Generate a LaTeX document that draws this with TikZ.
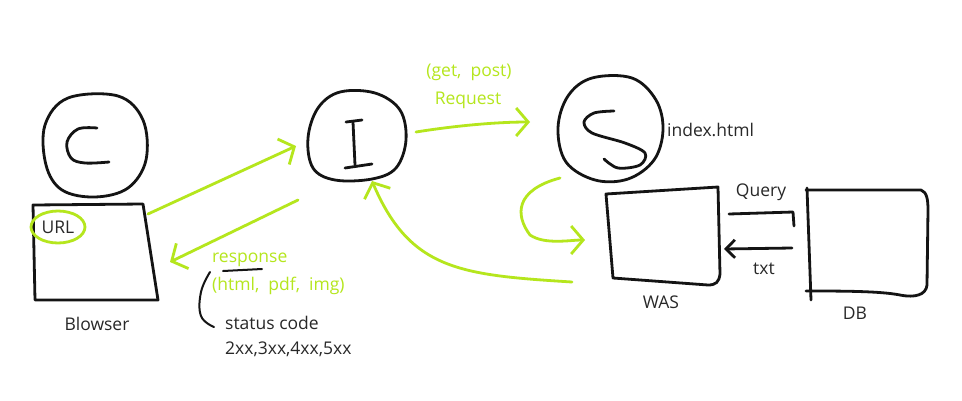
\documentclass[tikz,border=0pt]{standalone}
\usepackage{fontspec}
\setmainfont{Open Sans}
\usetikzlibrary{arrows.meta}
\definecolor{lime}{RGB}{181,230,29}
\definecolor{ink}{RGB}{20,20,20}
\definecolor{txtc}{RGB}{40,40,40}
\tikzset{
  pen/.style={draw=ink,line width=2.8pt,line cap=round,line join=round},
  gpen/.style={draw=lime,line width=2.8pt,line cap=round,line join=round},
  garrow/.style={gpen,-{Straight Barb[length=12pt,width=28pt,line width=2.8pt]}},
  barrow/.style={pen,-{Straight Barb[length=9pt,width=18pt,line width=2.8pt]}},
  lbl/.style={text=txtc,font=\fontsize{17.5}{20}\selectfont,inner sep=0pt},
  glbl/.style={text=lime,font=\fontsize{17.5}{20}\selectfont,inner sep=0pt},
}
\begin{document}
\begin{tikzpicture}[x=1pt,y=-1pt]
\useasboundingbox (0,0) rectangle (962,400);
\fill[white] (0,0) rectangle (962,400);

% ---- client C
\draw[pen] plot[smooth cycle,tension=0.6] coordinates {(68,98) (118,96) (143,120) (146,160) (128,188) (95,197) (62,190) (46,165) (45,125)};
\draw[pen] plot[smooth,tension=0.6] coordinates {(97,128) (78,129) (67,142) (71,158) (85,163) (109,162)};
% browser box
\draw[pen] (33,205) -- (143,204) -- (158,300) -- (35,300) -- cycle;
\node[lbl] (url) at (58,227) {URL};
\draw[gpen] (url) ellipse [x radius=27pt, y radius=16pt];
\node[lbl] (blowser) at (97,324) {Blowser};

% ---- Internet I
\draw[pen] plot[smooth cycle,tension=0.6] coordinates {(340,92) (375,93) (400,110) (406,140) (396,168) (372,179) (335,180) (313,168) (308,138) (318,108)};
\draw[pen] (346,122) -- (362,120);
\draw[pen] (353,122) -- (355,165);
\draw[pen] (345,168) -- (372,164);

% ---- Server S
\draw[pen] plot[smooth cycle,tension=0.6] coordinates {(592,78) (632,78) (656,100) (663,130) (654,160) (628,179) (595,180) (566,162) (558,128) (568,96)};
\draw[pen] plot[smooth,tension=0.55] coordinates {(614,111) (594,113) (584,122) (592,133) (625,143) (645,153) (640,165) (618,168) (604,159)};
\node[lbl,anchor=west] (index) at (667,130) {index.html};

% ---- WAS
\draw[pen] (606,194) -- (718,187) -- (720,274) .. controls (719,282) and (716,285) .. (708,285) -- (613,278) -- cycle;
\node[lbl] (was) at (661,302) {WAS};

% ---- DB
\draw[pen] (807,188) -- (811,300);
\draw[pen] (806,190) -- (921,190) .. controls (927,192) and (928,200) .. (928,210) -- (927,285) .. controls (926,295) and (915,298) .. (900,295) .. controls (880,291) and (840,291) .. (806,291);
\node[lbl] (db) at (855,313) {DB};

% ---- coordinates for connectors
\coordinate (cOut) at (148,214);
\coordinate (iIn) at (296,146);
\coordinate (iOut) at (298,200);
\coordinate (cIn) at (170,262);
\coordinate (iR) at (416,132);
\coordinate (sIn) at (530,122);
\coordinate (sOut) at (560,178);
\coordinate (wasIn) at (585,240);
\coordinate (wasOut) at (572,282);
\coordinate (iB) at (372,181);
\coordinate (qs) at (729,214);
\coordinate (qe) at (793,212);
\coordinate (qb) at (794,226);
\coordinate (ts) at (792,248);
\coordinate (te) at (724,249);

% ---- green connectors
\draw[garrow] (cOut) -- (iIn);
\draw[garrow] (iOut) -- (cIn);
\draw[garrow] (iR) .. controls (460,125) and (500,122) .. (sIn);
\draw[garrow] (sOut) .. controls (515,190) and (515,215) .. (530,235) .. controls (545,245) and (570,240) .. (wasIn);
\draw[garrow] (wasOut) .. controls (460,275) and (410,270) .. (iB);

% ---- black connectors
\draw[pen] (qs) -- (qe) -- (qb);
\draw[barrow] (ts) -- (te);
\node[lbl] (query) at (761,192) {Query};
\node[lbl] (txt) at (764,269) {txt};

% ---- labels
\node[glbl] (getpost) at (469,72) {(get,\ \ post)};
\node[glbl] (request) at (468,100) {Request};
\node[glbl,anchor=west] (response) at (212,260) {response};
\node[glbl,anchor=west] (types) at (212,286) {(html,\ \ pdf,\ \ img)};
\draw[pen,line width=2pt] (223,271) -- (262,269);
\draw[pen,line width=2pt] plot[smooth,tension=0.7] coordinates {(210,272) (201,292) (201,316) (214,327)};
\node[lbl,anchor=west] (status) at (225,323) {status code};
\node[lbl,anchor=west] (codes) at (225,349) {2xx,3xx,4xx,5xx};
\end{tikzpicture}
\end{document}
